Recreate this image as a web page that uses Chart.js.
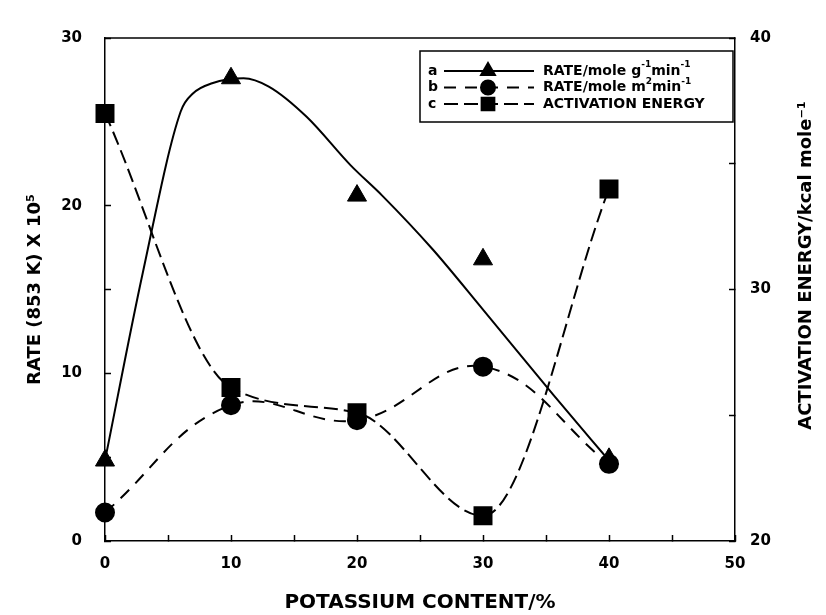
<!DOCTYPE html>
<html>
<head>
<meta charset="utf-8">
<script src="https://cdn.jsdelivr.net/npm/chart.js@4.4.1/dist/chart.umd.min.js"></script>
<style>
  html, body { margin: 0; padding: 0; background: #fff; }
</style>
</head>
<body>
<canvas id="chart" width="826" height="615"></canvas>
<script>
// potassium content (%) of the samples
const potassium = [0, 10, 20, 30, 40];
// a - RATE/mole g-1 min-1 (left axis, x 10^5)
const rateGram = [4.8, 27.6, 20.6, 16.8, 4.9];
// b - RATE/mole m2 min-1 (left axis, x 10^5)
const rateArea = [1.7, 8.1, 7.2, 10.4, 4.6];
// c - activation energy, kcal/mole (right axis)
const actEnergy = [37.0, 26.1, 25.1, 21.0, 34.0];
// smooth curve drawn for a (it does not go through every point)
const fitK = [0, 3, 6, 7, 8.5, 11, 13, 16, 19.5, 22, 26, 30, 35.6, 40];
const fitRate = [4.8, 16.0, 25.6, 26.7, 27.3, 27.6, 27.1, 25.3, 22.4, 20.6, 17.4, 13.8, 8.7, 4.8];

// tick labels
const xTickLabels = [0, 10, 20, 30, 40, 50];
const rateTickLabels = [0, 10, 20, 30];
const energyTickLabels = [20, 30, 40];
const rightTitle = 'ACTIVATION ENERGY/kcal mole\u207B\u00B9';

const pts = (xs, ys) => xs.map((x, i) => ({ x: x, y: ys[i] }));

const FONT = "'DejaVu Sans', 'Liberation Sans', Arial, sans-serif";
const BLACK = '#000';

// --- frame top + right axis title (reads bottom to top like the left one)
const framePlugin = {
  id: 'frame',
  afterDraw(chart) {
    const { ctx, chartArea: ca } = chart;
    ctx.save();
    ctx.strokeStyle = BLACK;
    ctx.lineWidth = 1.5;
    ctx.beginPath();
    ctx.moveTo(ca.left, ca.top);
    ctx.lineTo(ca.right, ca.top);
    ctx.stroke();

    ctx.translate(chart.width - 20, ca.top + (ca.bottom - ca.top) / 2 - 24);
    ctx.rotate(-Math.PI / 2);
    ctx.fillStyle = BLACK;
    ctx.font = 'bold 18px ' + FONT;
    ctx.textAlign = 'center';
    ctx.textBaseline = 'middle';
    ctx.fillText(rightTitle, 0, 0);
    ctx.restore();
  }
};

const legendRows = [
  { key: 'a', ds: 1, lineDs: 0, radius: 8, parts: [['RATE/mole g', 0], ['-1', 1], ['min', 0], ['-1', 1]] },
  { key: 'b', ds: 2, lineDs: 2, radius: 7, parts: [['RATE/mole m', 0], ['2', 1], ['min', 0], ['-1', 1]] },
  { key: 'c', ds: 3, lineDs: 3, radius: 9, parts: [['ACTIVATION ENERGY', 0]] }
];

const legendPlugin = {
  id: 'boxLegend',
  afterDraw(chart) {
    const { ctx, chartArea: ca } = chart;
    const w = 313, h = 71;
    const left = ca.right - w - 2, top = ca.top + 13;
    ctx.save();
    ctx.fillStyle = '#fff';
    ctx.fillRect(left, top, w, h);
    ctx.strokeStyle = BLACK;
    ctx.lineWidth = 1.5;
    ctx.strokeRect(left, top, w, h);
    legendRows.forEach((row, i) => {
      const y = top + 20 + i * 16.5;
      const ds = chart.data.datasets[row.ds];
      const lds = chart.data.datasets[row.lineDs];
      ctx.fillStyle = BLACK;
      ctx.strokeStyle = BLACK;
      ctx.font = 'bold 14px ' + FONT;
      ctx.textBaseline = 'middle';
      ctx.textAlign = 'left';
      ctx.fillText(row.key, left + 8, y);
      // line sample
      ctx.lineWidth = 2;
      ctx.setLineDash(lds.borderDash || []);
      ctx.beginPath();
      ctx.moveTo(left + 24, y);
      ctx.lineTo(left + 114, y);
      ctx.stroke();
      ctx.setLineDash([]);
      // marker
      Chart.helpers.drawPoint(ctx, { pointStyle: ds.pointStyle, radius: row.radius, rotation: 0, borderWidth: 1 }, left + 68, y);
      // label with superscripts
      let x = left + 123;
      row.parts.forEach(([txt, sup]) => {
        ctx.font = sup ? 'bold 9px ' + FONT : 'bold 14px ' + FONT;
        ctx.fillText(txt, x, sup ? y - 6 : y);
        x += ctx.measureText(txt).width;
      });
    });
    ctx.restore();
  }
};

const tickFont = { family: FONT, weight: 'bold', size: 15 };
const titleFont = { family: FONT, weight: 'bold', size: 18 };

new Chart(document.getElementById('chart'), {
  type: 'line',
  data: {
    datasets: [
      {
        label: 'a curve',
        data: pts(fitK, fitRate),
        yAxisID: 'y',
        borderColor: BLACK,
        borderWidth: 2,
        pointRadius: 0,
        cubicInterpolationMode: 'monotone',
        clip: false
      },
      {
        label: 'RATE/mole g-1min-1',
        data: pts(potassium, rateGram),
        yAxisID: 'y',
        showLine: false,
        pointStyle: 'triangle',
        pointRadius: 11,
        pointHoverRadius: 11,
        backgroundColor: BLACK,
        borderColor: BLACK,
        clip: false
      },
      {
        label: 'RATE/mole m2min-1',
        data: pts(potassium, rateArea),
        yAxisID: 'y',
        borderColor: BLACK,
        backgroundColor: BLACK,
        borderWidth: 2,
        borderDash: [12, 9],
        tension: 0.4,
        pointStyle: 'circle',
        pointRadius: 9,
        pointHoverRadius: 9,
        clip: false
      },
      {
        label: 'ACTIVATION ENERGY',
        data: pts(potassium, actEnergy),
        yAxisID: 'y1',
        borderColor: BLACK,
        backgroundColor: BLACK,
        borderWidth: 2,
        borderDash: [14, 6],
        cubicInterpolationMode: 'monotone',
        pointStyle: 'rect',
        pointRadius: 12,
        pointHoverRadius: 12,
        clip: false
      }
    ]
  },
  options: {
    responsive: false,
    animation: false,
    events: [],
    layout: { padding: { top: 22, left: 0, right: 0, bottom: 0 } },
    plugins: {
      legend: { display: false },
      tooltip: { enabled: false }
    },
    scales: {
      x: {
        type: 'linear',
        position: 'bottom',
        min: 0,
        max: 50,
        ticks: {
          stepSize: 5,
          autoSkip: false,
          maxRotation: 0,
          padding: 20,
          color: BLACK,
          font: tickFont,
          callback: v => xTickLabels.includes(v) ? v : ''
        },
        grid: { drawOnChartArea: false, tickLength: -6, tickColor: BLACK, tickWidth: 1.5 },
        border: { color: BLACK, width: 1.5 },
        title: { display: true, text: 'POTASSIUM CONTENT/%', color: BLACK, font: { family: FONT, weight: 'bold', size: 20 }, padding: { top: 0, bottom: 0 } },
        afterFit: s => { s.height = 74; }
      },
      y: {
        position: 'left',
        min: 0,
        max: 30,
        ticks: {
          stepSize: 5,
          autoSkip: false,
          padding: 29,
          color: BLACK,
          font: tickFont,
          callback: v => rateTickLabels.includes(v) ? v : ''
        },
        grid: { drawOnChartArea: false, tickLength: -6, tickColor: BLACK, tickWidth: 1.5 },
        border: { color: BLACK, width: 1.5 },
        title: { display: true, text: 'RATE (853 K) X 10\u2075', color: BLACK, font: titleFont, padding: { top: 25, bottom: 0 } },
        afterFit: s => { s.width = 105; }
      },
      y1: {
        position: 'right',
        min: 20,
        max: 40,
        ticks: {
          stepSize: 5,
          autoSkip: false,
          padding: 21,
          color: BLACK,
          font: tickFont,
          callback: v => energyTickLabels.includes(v) ? v : ''
        },
        grid: { drawOnChartArea: false, tickLength: -6, tickColor: BLACK, tickWidth: 1.5 },
        border: { color: BLACK, width: 1.5 },
        title: { display: false },
        afterFit: s => { s.width = 91; }
      }
    }
  },
  plugins: [framePlugin, legendPlugin]
});
</script>
</body>
</html>
